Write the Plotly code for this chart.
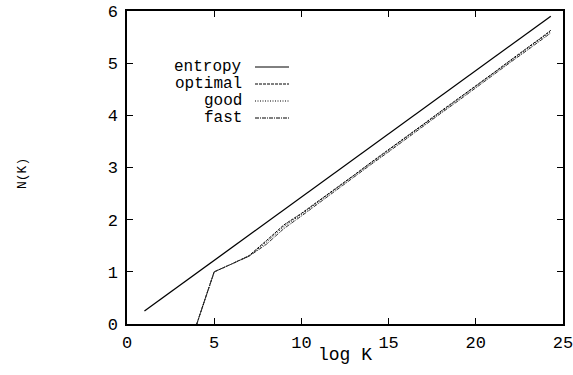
import plotly.graph_objects as go

# ---- data ----
entropy_x = [1, 24.3]
entropy_y = [0.25, 5.9]

curve_x = [4, 5, 6, 7, 8, 9, 10, 11, 12, 13, 14, 15, 16, 17, 18, 19, 20, 21, 22, 23, 24, 24.3]
optimal_y = [0.0, 1.0, 1.15, 1.31, 1.60, 1.90, 2.12, 2.36, 2.61, 2.85, 3.10, 3.34, 3.59, 3.83, 4.08, 4.32, 4.57, 4.81, 5.06, 5.30, 5.55, 5.63]
good_y    = [0.0, 1.0, 1.15, 1.30, 1.57, 1.87, 2.10, 2.35, 2.59, 2.84, 3.08, 3.33, 3.57, 3.82, 4.06, 4.31, 4.55, 4.80, 5.04, 5.29, 5.53, 5.61]
fast_y    = [0.0, 1.0, 1.15, 1.30, 1.53, 1.83, 2.07, 2.32, 2.57, 2.81, 3.06, 3.30, 3.55, 3.79, 4.04, 4.28, 4.53, 4.77, 5.02, 5.26, 5.51, 5.58]

x_ticks = [0, 5, 10, 15, 20, 25]
y_ticks = [0, 1, 2, 3, 4, 5, 6]

legend_labels = ["entropy", "optimal", "good", "fast"]
legend_dashes = ["solid", "3px,1px", "1px,1.5px", "4px,1px,1px,1px"]

FONT = "Liberation Mono, Courier New, monospace"

fig = go.Figure()
fig.add_trace(go.Scatter(x=entropy_x, y=entropy_y, mode="lines",
                         line=dict(color="black", width=1.3, dash=legend_dashes[0]), name="entropy"))
fig.add_trace(go.Scatter(x=curve_x, y=optimal_y, mode="lines",
                         line=dict(color="black", width=1, dash=legend_dashes[1]), name="optimal"))
fig.add_trace(go.Scatter(x=curve_x, y=good_y, mode="lines",
                         line=dict(color="black", width=1, dash=legend_dashes[2]), name="good"))
fig.add_trace(go.Scatter(x=curve_x, y=fast_y, mode="lines",
                         line=dict(color="#333", width=1, dash=legend_dashes[3]), name="fast"))

W, H = 573, 375
# plot area in window pixels: left 127, right 563, top 11, bottom 324
L, T, R, B = 127, 11, W - 563, H - 324
pw, ph = W - L - R, H - T - B

def px2paper(px, py):
    return (px - L) / pw, (H - B - py) / ph

annotations = []
shapes = []
leg_y = [67, 84, 101, 118]
for lab, dash, py in zip(legend_labels, legend_dashes, leg_y):
    xa, ya = px2paper(244, py)
    annotations.append(dict(text=lab, x=xa, y=ya, xref="paper", yref="paper",
                            xanchor="right", yanchor="middle", showarrow=False,
                            font=dict(family=FONT, size=16, color="black")))
    x0, _ = px2paper(255, py)
    x1, _ = px2paper(289, py)
    shapes.append(dict(type="line", xref="paper", yref="paper", x0=x0, x1=x1, y0=ya, y1=ya,
                       line=dict(color="black", width=1, dash=dash)))

xa, ya = px2paper(22, 174)
annotations.append(dict(text="N(K)", x=xa, y=ya, xref="paper", yref="paper", textangle=-90,
                        xanchor="center", yanchor="middle", showarrow=False,
                        font=dict(family=FONT, size=13, color="black")))
xa, ya = px2paper(345, 355)
annotations.append(dict(text="log K", x=xa, y=ya, xref="paper", yref="paper",
                        xanchor="center", yanchor="middle", showarrow=False,
                        font=dict(family=FONT, size=18, color="black")))

axis_common = dict(showgrid=False, zeroline=False, showline=True, linecolor="black", linewidth=1.5,
                   mirror="ticks", ticks="inside", ticklen=6, tickwidth=1, tickcolor="black",
                   ticklabeloverflow="allow",
                   tickfont=dict(family=FONT, size=17, color="black"))

fig.update_layout(
    width=W, height=H,
    margin=dict(l=L, r=R, t=T, b=B),
    paper_bgcolor="white", plot_bgcolor="white",
    showlegend=False,
    xaxis=dict(range=[0, 25], tickvals=x_ticks, ticktext=[str(v) for v in x_ticks],
               automargin=False, ticklabelstandoff=2, **axis_common),
    yaxis=dict(range=[0, 6], tickvals=y_ticks, ticktext=[str(v) for v in y_ticks],
               automargin=False, ticklabelstandoff=4, **axis_common),
    annotations=annotations,
    shapes=shapes,
)

fig.write_html("out.html", config={"displayModeBar": False},
               post_script="document.body.style.margin='0';")
